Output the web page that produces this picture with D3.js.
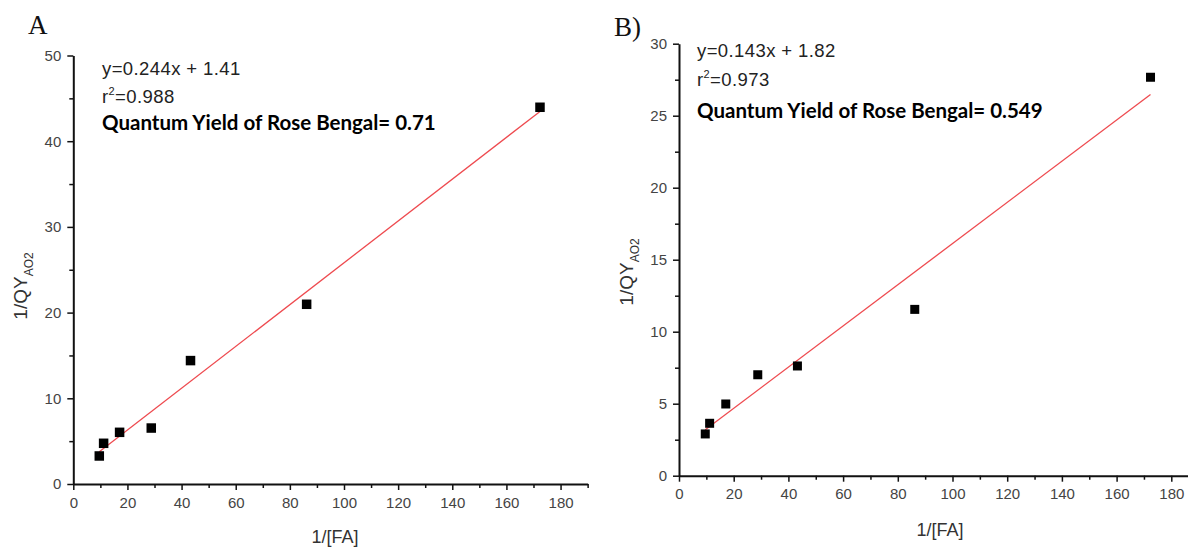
<!DOCTYPE html>
<html>
<head>
<meta charset="utf-8">
<script src="https://cdn.jsdelivr.net/npm/d3@7"></script>
<style>
  html, body { margin: 0; padding: 0; background: #fff; }
  svg { display: block; }
  .tick text { font-family: 'Liberation Sans', Arial, sans-serif; fill: #444; }
</style>
</head>
<body>
<svg id="chart" width="1188" height="548"></svg>
<script>
// 1/[FA] values shared by both panels
const invFA = [9.6, 11.2, 17.1, 28.8, 43.3, 86.2, 172.4];

// Panel A: 1/QY_AO2 values
const invQY_A = [3.27, 4.75, 6.03, 6.53, 14.4, 20.97, 43.96];
// Panel B: 1/QY_AO2 values
const invQY_B = [2.9, 3.64, 4.98, 7.01, 7.62, 11.55, 27.67];

// Linear fits (slope, intercept)
const fitA = { slope: 0.244, intercept: 1.41, r2: "0.988", qy: "0.71" };
const fitB = { slope: 0.143, intercept: 1.82, r2: "0.973", qy: "0.549" };

const xTicks = [0, 20, 40, 60, 80, 100, 120, 140, 160, 180];
const xMinor = [10, 30, 50, 70, 90, 110, 130, 150, 170, 190];
const yTicksA = [0, 10, 20, 30, 40, 50];
const yMinorA = [5, 15, 25, 35, 45];
const yTicksB = [0, 5, 10, 15, 20, 25, 30];
const yMinorB = [2.5, 7.5, 12.5, 17.5, 22.5, 27.5];

const SANS = "'Liberation Sans', Arial, sans-serif";
const svg = d3.select("#chart");

function drawPanel(p) {
  const g = svg.append("g");
  const x = d3.scaleLinear().domain([0, 190]).range([p.x0, p.x1]);
  const y = d3.scaleLinear().domain([0, p.yMax]).range([p.y0, p.y1]);

  // minor ticks (no labels)
  g.append("g")
    .attr("transform", `translate(0,${p.y0})`)
    .call(d3.axisBottom(x).tickValues(xMinor).tickSize(4).tickFormat(""))
    .call(a => { a.select(".domain").remove(); a.selectAll("text").remove(); })
    .selectAll("line").attr("stroke", "#111").attr("stroke-width", 1.5);
  g.append("g")
    .attr("transform", `translate(${p.x0},0)`)
    .call(d3.axisLeft(y).tickValues(p.yMinor).tickSize(4).tickFormat(""))
    .call(a => { a.select(".domain").remove(); a.selectAll("text").remove(); })
    .selectAll("line").attr("stroke", "#111").attr("stroke-width", 1.5);

  // major axes
  const xa = g.append("g")
    .attr("transform", `translate(0,${p.y0})`)
    .call(d3.axisBottom(x).tickValues(xTicks).tickSize(6).tickSizeOuter(0).tickPadding(7));
  xa.select(".domain").attr("stroke", "#111").attr("stroke-width", 2);
  xa.selectAll(".tick line").attr("stroke", "#111").attr("stroke-width", 1.5);
  xa.selectAll(".tick text").attr("font-size", 15);

  const ya = g.append("g")
    .attr("transform", `translate(${p.x0},0)`)
    .call(d3.axisLeft(y).tickValues(p.yTicks).tickSize(6).tickSizeOuter(0).tickPadding(6));
  ya.select(".domain").attr("stroke", "#111").attr("stroke-width", 2);
  ya.selectAll(".tick line").attr("stroke", "#111").attr("stroke-width", 1.5);
  ya.selectAll(".tick text").attr("font-size", 15);

  // fitted line
  const xs = d3.extent(invFA);
  g.append("line")
    .attr("x1", x(xs[0])).attr("y1", y(p.fit.slope * xs[0] + p.fit.intercept))
    .attr("x2", x(xs[1])).attr("y2", y(p.fit.slope * xs[1] + p.fit.intercept))
    .attr("stroke", "#ee4a4f").attr("stroke-width", 1.3);

  // data points
  const pts = invFA.map((v, i) => [v, p.values[i]]);
  g.selectAll("rect.pt").data(pts).enter().append("rect")
    .attr("class", "pt")
    .attr("x", d => x(d[0]) - p.ms / 2)
    .attr("y", d => y(d[1]) - p.ms / 2)
    .attr("width", p.ms).attr("height", p.ms)
    .attr("fill", "#000");

  // axis titles
  g.append("text")
    .attr("x", p.xLabel[0]).attr("y", p.xLabel[1])
    .attr("text-anchor", "middle")
    .attr("font-family", SANS)
    .attr("font-size", 18).attr("fill", "#333")
    .text("1/[FA]");

  const yl = g.append("text")
    .attr("transform", `translate(${p.yLabel[0]},${p.yLabel[1]}) rotate(-90)`)
    .attr("text-anchor", "middle")
    .attr("font-family", SANS)
    .attr("font-size", 19).attr("fill", "#333");
  yl.append("tspan").text("1/QY");
  yl.append("tspan").attr("font-size", 12).attr("dy", 6).text("AO2");

  // panel letter
  g.append("text")
    .attr("x", p.letter[0]).attr("y", p.letter[1])
    .attr("font-family", "'Liberation Serif', 'Times New Roman', serif")
    .attr("font-size", 27).attr("fill", "#111")
    .text(p.letterText);

  // fit annotations
  const tx = p.note[0];
  g.append("text")
    .attr("x", tx).attr("y", p.note[1])
    .attr("font-family", SANS)
    .attr("font-size", 18.5).attr("letter-spacing", 0.4).attr("fill", "#222")
    .text(`y=${p.fit.slope}x + ${p.fit.intercept}`);
  const r2 = g.append("text")
    .attr("x", tx).attr("y", p.note[2])
    .attr("font-family", SANS)
    .attr("font-size", 18.5).attr("letter-spacing", 0.4).attr("fill", "#222");
  r2.append("tspan").text("r");
  r2.append("tspan").attr("font-size", 11).attr("dy", -8).text("2");
  r2.append("tspan").attr("dy", 8).text(`=${p.fit.r2}`);
  g.append("text")
    .attr("x", tx).attr("y", p.note[3])
    .attr("font-family", "Lato, 'Open Sans', sans-serif")
    .attr("font-weight", "bold")
    .attr("font-size", 20.5).attr("fill", "#000")
    .text(`Quantum Yield of Rose Bengal= ${p.fit.qy}`);
}

drawPanel({
  x0: 73.3, x1: 73.3 + 190 * 2.707, y0: 484, y1: 55.5, yMax: 50,
  yTicks: yTicksA, yMinor: yMinorA, values: invQY_A, fit: fitA, ms: 9.5,
  xLabel: [335, 543], yLabel: [27, 286], letter: [28, 34], letterText: "A",
  note: [102, 75, 103, 130]
});

drawPanel({
  x0: 679, x1: 679 + 190 * 2.735, y0: 475.7, y1: 43.7, yMax: 30,
  yTicks: yTicksB, yMinor: yMinorB, values: invQY_B, fit: fitB, ms: 9,
  xLabel: [940, 536], yLabel: [633, 272], letter: [614, 36], letterText: "B)",
  note: [697, 57, 86, 118]
});
</script>
</body>
</html>
